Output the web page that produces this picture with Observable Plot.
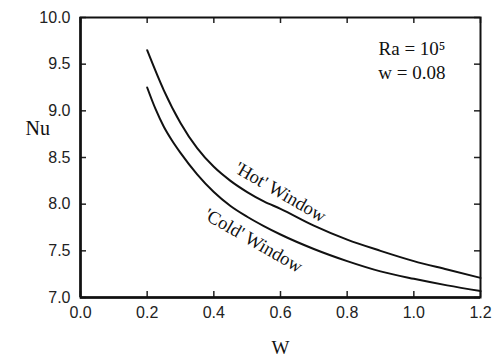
<!DOCTYPE html>
<html>
<head>
<meta charset="utf-8">
<script src="https://cdn.jsdelivr.net/npm/d3@7"></script>
<script src="https://cdn.jsdelivr.net/npm/@observablehq/plot@0.6"></script>
<style>
  html, body { margin: 0; padding: 0; background: #fff; }
  #chart svg { display: block; }
</style>
</head>
<body>
<div id="chart"></div>
<script>
const hotW  = [0.20, 0.25, 0.30, 0.35, 0.40, 0.45, 0.50, 0.55, 0.60, 0.70, 0.80, 0.90, 1.00, 1.10, 1.20];
const hotNu = [9.65, 9.22, 8.87, 8.60, 8.40, 8.25, 8.13, 8.03, 7.95, 7.77, 7.62, 7.50, 7.39, 7.30, 7.21];
const coldW  = [0.20, 0.225, 0.25, 0.275, 0.30, 0.35, 0.40, 0.45, 0.50, 0.55, 0.60, 0.70, 0.80, 0.90, 1.00, 1.10, 1.20];
const coldNu = [9.25, 9.02, 8.83, 8.68, 8.55, 8.32, 8.13, 7.98, 7.865, 7.765, 7.675, 7.52, 7.39, 7.28, 7.20, 7.13, 7.07];
const xTicks = [0.0, 0.2, 0.4, 0.6, 0.8, 1.0, 1.2];
const yTicks = [7.0, 7.5, 8.0, 8.5, 9.0, 9.5, 10.0];
const curveLabels = [
  {W: 0.60, Nu: 8.13, text: "'Hot' Window"},
  {W: 0.519, Nu: 7.61, text: "'Cold' Window"}
];
const notes = [
  {W: 1.095, Nu: 9.66, text: "Ra = 10\u2075"},
  {W: 1.095, Nu: 9.41, text: "w = 0.08"}
];

const hot = hotW.map((w, i) => ({W: w, Nu: hotNu[i]}));
const cold = coldW.map((w, i) => ({W: w, Nu: coldNu[i]}));

const W = 492, H = 358, ML = 80, MR = 12, MT = 17, MB = 61;
const xDom = [0, 1.2], yDom = [7, 10];
const frameW = W - ML - MR, frameH = H - MT - MB, TICK = 6;
// tick length expressed in data units of each scale
const tx = TICK * (xDom[1] - xDom[0]) / frameW;
const ty = TICK * (yDom[1] - yDom[0]) / frameH;

const sans = "'Liberation Sans', Arial, sans-serif";
const serif = "'Liberation Serif', 'Times New Roman', serif";
const tk = {stroke: "#222", strokeWidth: 1.5};

const chart = Plot.plot({
  width: W,
  height: H,
  marginLeft: ML,
  marginRight: MR,
  marginTop: MT,
  marginBottom: MB,
  style: {fontFamily: sans, background: "#fff", color: "#222"},
  x: {domain: xDom},
  y: {domain: yDom},
  marks: [
    Plot.ruleX(xTicks, {x: d => d, y1: () => yDom[0], y2: () => yDom[0] + ty, ...tk}),
    Plot.ruleX(xTicks, {x: d => d, y1: () => yDom[1] - ty, y2: () => yDom[1], ...tk}),
    Plot.ruleY(yTicks, {y: d => d, x1: () => xDom[0], x2: () => xDom[0] + tx, ...tk}),
    Plot.ruleY(yTicks, {y: d => d, x1: () => xDom[1] - tx, x2: () => xDom[1], ...tk}),
    Plot.axisX(xTicks, {anchor: "bottom", tickSize: 0, tickPadding: 9, tickFormat: d3.format(".1f"), fontSize: 16, fill: "#222", label: null}),
    Plot.axisY(yTicks, {anchor: "left", tickSize: 0, tickPadding: 10, tickFormat: d3.format(".1f"), fontSize: 16, fill: "#222", label: null}),
    Plot.frame({stroke: "#111", strokeWidth: 2}),
    Plot.ruleX([xDom[0]], {stroke: "#111", strokeWidth: 2.5}),
    Plot.ruleY([yDom[0]], {stroke: "#111", strokeWidth: 2.5}),
    Plot.line(hot, {x: "W", y: "Nu", stroke: "#111", strokeWidth: 2, curve: "monotone-x"}),
    Plot.line(cold, {x: "W", y: "Nu", stroke: "#111", strokeWidth: 2, curve: "monotone-x"}),
    Plot.text(curveLabels, {x: "W", y: "Nu", text: "text", rotate: 30, fontFamily: serif, fontSize: 18.5, fill: "#111"}),
    Plot.text(notes, {x: "W", y: "Nu", text: "text", textAnchor: "end", fontFamily: serif, fontSize: 19, fill: "#111"}),
    Plot.text(["Nu"], {frameAnchor: "left", dx: -55, dy: -29, text: d => d, fontFamily: serif, fontSize: 20, fill: "#111"}),
    Plot.text(["W"], {frameAnchor: "bottom", dy: 56, text: d => d, fontFamily: serif, fontSize: 19, fill: "#111"})
  ]
});
document.getElementById("chart").appendChild(chart);
</script>
</body>
</html>
